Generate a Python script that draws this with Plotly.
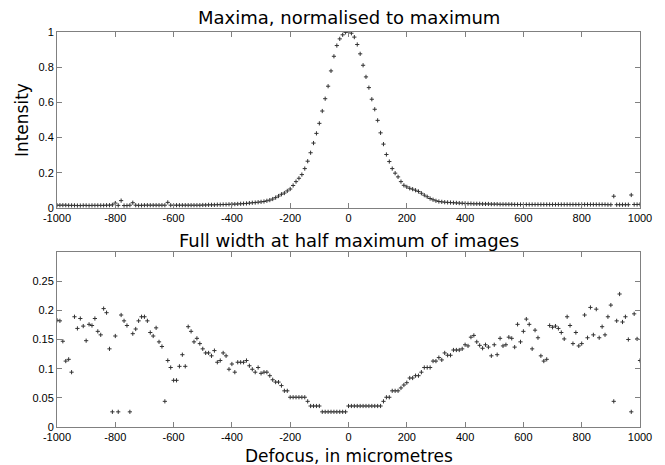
import plotly.graph_objects as go

# Defocus positions (micrometres)
defocus = list(range(-1000, 1001, 10))

# ---- Top panel: maxima normalised to maximum ----
int_left_far = [0.016, 0.016, 0.016, 0.016, 0.015, 0.015, 0.015, 0.014, 0.014, 0.015,
                0.015, 0.014, 0.015, 0.015, 0.015, 0.015, 0.015, 0.016, 0.016, 0.018]   # -1000..-810
int_left_mid = [0.028, 0.015, 0.042, 0.014, 0.014, 0.016, 0.030, 0.016, 0.015, 0.015,
                0.016, 0.016, 0.016, 0.016, 0.016, 0.016, 0.016, 0.016, 0.032, 0.016]   # -800..-610
int_left_near = [0.016, 0.016, 0.016, 0.016, 0.016, 0.016, 0.016, 0.016, 0.016, 0.016,
                 0.017, 0.017, 0.018, 0.018, 0.018, 0.019, 0.019, 0.020, 0.020, 0.021]  # -600..-410
int_rise = [0.022, 0.022, 0.023, 0.024, 0.025, 0.026, 0.028, 0.030, 0.031, 0.033,
            0.035, 0.037, 0.041, 0.045, 0.051, 0.059, 0.068, 0.078, 0.085, 0.097,
            0.108, 0.128, 0.150, 0.169, 0.190, 0.224, 0.266, 0.314, 0.369, 0.424,
            0.481, 0.551, 0.621, 0.692, 0.779, 0.862, 0.923, 0.961, 0.984, 0.998]       # -400..-10
int_fall = [1.000, 0.993, 0.971, 0.929, 0.876, 0.811, 0.745, 0.684, 0.618, 0.561,
            0.498, 0.427, 0.363, 0.304, 0.264, 0.224, 0.198, 0.177, 0.150, 0.129,
            0.120, 0.112, 0.107, 0.101, 0.094, 0.084, 0.073, 0.064, 0.054, 0.047,
            0.041, 0.037, 0.035, 0.033, 0.032, 0.031, 0.030, 0.029, 0.028, 0.027]       # 0..390
int_tail = [0.026, 0.025, 0.025, 0.024, 0.024, 0.024, 0.023, 0.023, 0.023, 0.022,
            0.022, 0.022, 0.021, 0.021, 0.021, 0.021, 0.021, 0.020, 0.020, 0.020,
            0.020, 0.020, 0.020, 0.020, 0.020, 0.020, 0.020, 0.020, 0.020, 0.020,
            0.020, 0.020, 0.020, 0.020, 0.020, 0.020, 0.020, 0.020, 0.020, 0.020,
            0.020, 0.020, 0.020, 0.020, 0.020, 0.020, 0.020, 0.020, 0.020, 0.019,
            0.019, 0.067, 0.019, 0.019, 0.019, 0.019, 0.019, 0.074, 0.020, 0.020,
            0.021]                                                                      # 400..1000
intensity = int_left_far + int_left_mid + int_left_near + int_rise + int_fall + int_tail

# ---- Bottom panel: FWHM ----
fwhm_a = [0.183, 0.182, 0.147, 0.113, 0.116, 0.094, 0.189, 0.169, 0.186, 0.173,
          0.148, 0.176, 0.174, 0.186, 0.164, 0.158, 0.203, 0.196, 0.134, 0.026]   # -1000..-810
fwhm_b = [0.156, 0.026, 0.192, 0.182, 0.174, 0.026, 0.160, 0.168, 0.182, 0.189,
          0.189, 0.182, 0.162, 0.156, 0.170, 0.146, 0.138, 0.044, 0.114, 0.102]   # -800..-610
fwhm_c = [0.080, 0.080, 0.104, 0.124, 0.104, 0.172, 0.164, 0.146, 0.152, 0.143,
          0.134, 0.127, 0.127, 0.122, 0.131, 0.111, 0.114, 0.127, 0.122, 0.099]   # -600..-410
fwhm_d = [0.108, 0.094, 0.111, 0.111, 0.111, 0.114, 0.105, 0.099, 0.094, 0.102,
          0.092, 0.094, 0.094, 0.088, 0.081, 0.077, 0.077, 0.071, 0.062, 0.062,
          0.051, 0.051, 0.051, 0.051, 0.051, 0.051, 0.044, 0.036, 0.036, 0.036,
          0.036, 0.026, 0.026, 0.026, 0.026, 0.026, 0.026, 0.026, 0.026, 0.026]   # -400..-10
fwhm_e = [0.036, 0.036, 0.036, 0.036, 0.036, 0.036, 0.036, 0.036, 0.036, 0.036,
          0.036, 0.036, 0.044, 0.051, 0.051, 0.062, 0.062, 0.062, 0.067, 0.072,
          0.076, 0.084, 0.084, 0.088, 0.088, 0.094, 0.102, 0.102, 0.102, 0.113,
          0.113, 0.119, 0.115, 0.127, 0.123, 0.123, 0.132, 0.132, 0.132, 0.134]   # 0..390
fwhm_f = [0.141, 0.139, 0.154, 0.157, 0.146, 0.140, 0.135, 0.141, 0.137, 0.122,
          0.141, 0.124, 0.152, 0.139, 0.141, 0.154, 0.152, 0.137, 0.176, 0.146,
          0.164, 0.185, 0.176, 0.134, 0.166, 0.153, 0.122, 0.113, 0.116, 0.174,
          0.171, 0.173, 0.169, 0.162, 0.151, 0.189, 0.174, 0.143, 0.162, 0.139,
          0.143, 0.192, 0.153, 0.205, 0.158, 0.202, 0.153, 0.172, 0.158, 0.189,
          0.209, 0.044, 0.182, 0.228, 0.180, 0.189, 0.150, 0.026, 0.194, 0.151,
          0.114]                                                                  # 400..1000
fwhm = fwhm_a + fwhm_b + fwhm_c + fwhm_d + fwhm_e + fwhm_f

x_ticks = list(range(-1000, 1001, 200))
y1_ticks = [0, 0.2, 0.4, 0.6, 0.8, 1]
y1_labels = ["0", "0.2", "0.4", "0.6", "0.8", "1"]
y2_ticks = [0, 0.05, 0.1, 0.15, 0.2, 0.25]
y2_labels = ["0", "0.05", "0.1", "0.15", "0.2", "0.25"]

assert len(intensity) == len(defocus) == len(fwhm)

marker = dict(symbol="cross-thin", size=3, color="#333333",
              line=dict(width=1, color="#333333"))

fig = go.Figure()
fig.add_trace(go.Scatter(x=defocus, y=intensity, mode="markers", marker=marker,
                         xaxis="x", yaxis="y", showlegend=False, hoverinfo="skip"))
fig.add_trace(go.Scatter(x=defocus, y=fwhm, mode="markers", marker=marker,
                         xaxis="x2", yaxis="y2", showlegend=False, hoverinfo="skip"))

axis_common = dict(showline=True, linecolor="#808080", linewidth=1, mirror="ticks",
                   ticks="inside", ticklen=5, tickcolor="#808080", showgrid=False,
                   zeroline=False,
                   tickfont=dict(family="Liberation Sans, Arial", size=11, color="#000000"))

fig.update_layout(
    width=665, height=465,
    margin=dict(l=57, r=25, t=32, b=38),
    paper_bgcolor="white", plot_bgcolor="white",
    xaxis=dict(domain=[0, 1], anchor="y", range=[-1000, 1000], tickvals=x_ticks,
               ticktext=[str(v) for v in x_ticks], **axis_common),
    yaxis=dict(domain=[0.5544, 1], anchor="x", range=[0, 1], tickvals=y1_ticks,
               ticktext=y1_labels, **axis_common),
    xaxis2=dict(domain=[0, 1], anchor="y2", range=[-1000, 1000], tickvals=x_ticks,
                ticktext=[str(v) for v in x_ticks], **axis_common),
    yaxis2=dict(domain=[0, 0.443], anchor="x2", range=[0, 0.3], tickvals=y2_ticks,
                ticktext=y2_labels, **axis_common),
    annotations=[
        dict(text="Maxima, normalised to maximum", x=0.5, y=1.036, xref="paper", yref="paper",
             xanchor="center", yanchor="middle", showarrow=False,
             font=dict(family="DejaVu Sans", size=18, color="#000000")),
        dict(text="Full width at half maximum of images", x=0.5, y=0.473, xref="paper", yref="paper",
             xanchor="center", yanchor="middle", showarrow=False,
             font=dict(family="DejaVu Sans", size=18, color="#000000")),
        dict(text="Defocus, in micrometres", x=0.5, y=-0.073, xref="paper", yref="paper",
             xanchor="center", yanchor="middle", showarrow=False,
             font=dict(family="DejaVu Sans", size=17, color="#000000")),
        dict(text="Intensity", x=-0.060, y=0.777, xref="paper", yref="paper",
             xanchor="center", yanchor="middle", showarrow=False, textangle=-90,
             font=dict(family="DejaVu Sans", size=17, color="#000000")),
    ],
)

fig.write_html("out.html")
